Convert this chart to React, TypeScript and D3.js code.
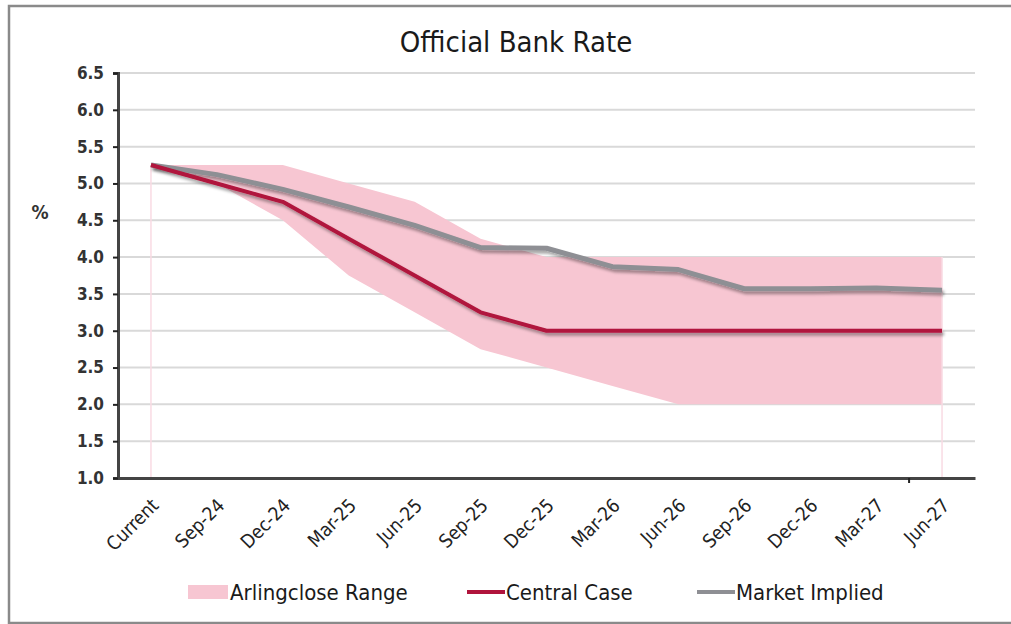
import React, { useEffect, useRef } from "react";
import * as d3 from "d3";

const categories = ["Current", "Sep-24", "Dec-24", "Mar-25", "Jun-25", "Sep-25", "Dec-25", "Mar-26", "Jun-26", "Sep-26", "Dec-26", "Mar-27", "Jun-27"];
const centralCase = [5.25, 5.0, 4.75, 4.25, 3.75, 3.25, 3.0, 3.0, 3.0, 3.0, 3.0, 3.0, 3.0];
const marketImplied = [5.25, 5.12, 4.92, 4.68, 4.43, 4.13, 4.12, 3.87, 3.83, 3.57, 3.57, 3.58, 3.55];
const rangeUpper = [5.25, 5.25, 5.25, 5.0, 4.75, 4.25, 4.0, 4.0, 4.0, 4.0, 4.0, 4.0, 4.0];
const rangeLower = [5.25, 5.0, 4.5, 3.75, 3.25, 2.75, 2.5, 2.25, 2.0, 2.0, 2.0, 2.0, 2.0];
const yTicks = [1.0, 1.5, 2.0, 2.5, 3.0, 3.5, 4.0, 4.5, 5.0, 5.5, 6.0, 6.5];

const FONT = "'DejaVu Sans Condensed', 'DejaVu Sans', sans-serif";

export default function App() {
  const ref = useRef<SVGSVGElement>(null);

  useEffect(() => {
    const svg = d3.select(ref.current);
    svg.selectAll("*").remove();

    const left = 118, right = 975, top = 73, bottom = 478;

    const x = d3.scaleBand().domain(categories).range([left, right]);
    const cx = (c: string) => (x(c) as number) + x.bandwidth() / 2;
    const y = d3.scaleLinear().domain([1, 6.5]).range([bottom, top]);

    const defs = svg.append("defs");
    const f = defs.append("filter").attr("id", "shadow").attr("x", "-5%").attr("y", "-20%").attr("width", "110%").attr("height", "140%");
    f.append("feDropShadow").attr("dx", 2).attr("dy", 3).attr("stdDeviation", 1.6)
      .attr("flood-color", "#000").attr("flood-opacity", 0.35);

    // frame (right side runs off the picture)
    svg.append("rect").attr("x", 9).attr("y", 6).attr("width", 1100).attr("height", 617)
      .attr("fill", "#fff").attr("stroke", "#8a8a8a").attr("stroke-width", 2.5);

    // title
    svg.append("text").attr("x", 516).attr("y", 52).attr("text-anchor", "middle")
      .style("font-family", FONT).style("font-size", "29px").attr("fill", "#1a1a1a")
      .text("Official Bank Rate");

    // gridlines
    svg.append("g").selectAll("line").data(yTicks.slice(1)).enter().append("line")
      .attr("x1", left).attr("x2", right)
      .attr("y1", d => y(d)).attr("y2", d => y(d))
      .attr("stroke", "#d9d9d9").attr("stroke-width", 2);

    // range band
    const idx = categories.map((_, i) => i);
    const area = d3.area<number>()
      .x(i => cx(categories[i]))
      .y0(i => y(rangeLower[i]))
      .y1(i => y(rangeUpper[i]));
    svg.append("path").datum(idx).attr("d", area).attr("fill", "#f7c6d2");

    // drop lines at band ends
    [0, categories.length - 1].forEach(i => {
      svg.append("line").attr("x1", cx(categories[i])).attr("x2", cx(categories[i]))
        .attr("y1", y(rangeUpper[i])).attr("y2", bottom)
        .attr("stroke", "#f9dbe3").attr("stroke-width", 1.5);
    });

    const line = (vals: number[]) => d3.line<number>()
      .x(i => cx(categories[i])).y(i => y(vals[i]))(idx);

    svg.append("path").attr("d", line(marketImplied)).attr("fill", "none")
      .attr("stroke", "#8e8f94").attr("stroke-width", 5).attr("stroke-linejoin", "round")
      .attr("filter", "url(#shadow)");
    svg.append("path").attr("d", line(centralCase)).attr("fill", "none")
      .attr("stroke", "#b0143c").attr("stroke-width", 4).attr("stroke-linejoin", "round")
      .attr("filter", "url(#shadow)");

    // y axis
    const yAxis = svg.append("g").attr("transform", `translate(${left},0)`)
      .call(d3.axisLeft(y).tickValues(yTicks).tickFormat(d3.format(".1f")).tickSize(5).tickPadding(9));
    yAxis.select(".domain").attr("stroke", "#444").attr("stroke-width", 3);
    yAxis.selectAll(".tick line").attr("stroke", "#222").attr("stroke-width", 2);
    yAxis.selectAll(".tick text").style("font-family", FONT).style("font-size", "17px")
      .style("font-weight", "bold").attr("fill", "#333");

    // x axis
    const xAxis = svg.append("g").attr("transform", `translate(0,${bottom})`)
      .call(d3.axisBottom(x).tickSize(0).tickPadding(0));
    xAxis.select(".domain").attr("stroke", "#444").attr("stroke-width", 3);
    xAxis.selectAll(".tick text")
      .style("font-family", FONT).style("font-size", "19px").attr("fill", "#222")
      .attr("text-anchor", "end").attr("x", 0).attr("y", 0).attr("dy", "0.35em")
      .attr("transform", "translate(4,24) rotate(-45)");
    // single tick mark seen near the end
    svg.append("line").attr("x1", (x("Jun-27") as number)).attr("x2", (x("Jun-27") as number))
      .attr("y1", bottom).attr("y2", bottom + 5).attr("stroke", "#222").attr("stroke-width", 2);

    // % label
    svg.append("text").attr("x", 40).attr("y", 219).attr("text-anchor", "middle")
      .style("font-family", FONT).style("font-size", "19px").style("font-weight", "bold")
      .attr("fill", "#333").text("%");

    // legend
    const lg = svg.append("g").style("font-family", FONT).style("font-size", "22px");
    lg.append("rect").attr("x", 188).attr("y", 585).attr("width", 40).attr("height", 14).attr("fill", "#f7c6d2");
    lg.append("text").attr("x", 230).attr("y", 600).attr("fill", "#1a1a1a").text("Arlingclose Range");
    lg.append("line").attr("x1", 467).attr("x2", 505).attr("y1", 592).attr("y2", 592)
      .attr("stroke", "#b0143c").attr("stroke-width", 4);
    lg.append("text").attr("x", 506).attr("y", 600).attr("fill", "#1a1a1a").text("Central Case");
    lg.append("line").attr("x1", 697).attr("x2", 735).attr("y1", 592).attr("y2", 592)
      .attr("stroke", "#8e8f94").attr("stroke-width", 4);
    lg.append("text").attr("x", 736).attr("y", 600).attr("fill", "#1a1a1a").text("Market Implied");
  }, []);

  return (
    <svg ref={ref} width={1011} height={624}
      style={{ position: "absolute", left: 0, top: 0, display: "block" }} />
  );
}
